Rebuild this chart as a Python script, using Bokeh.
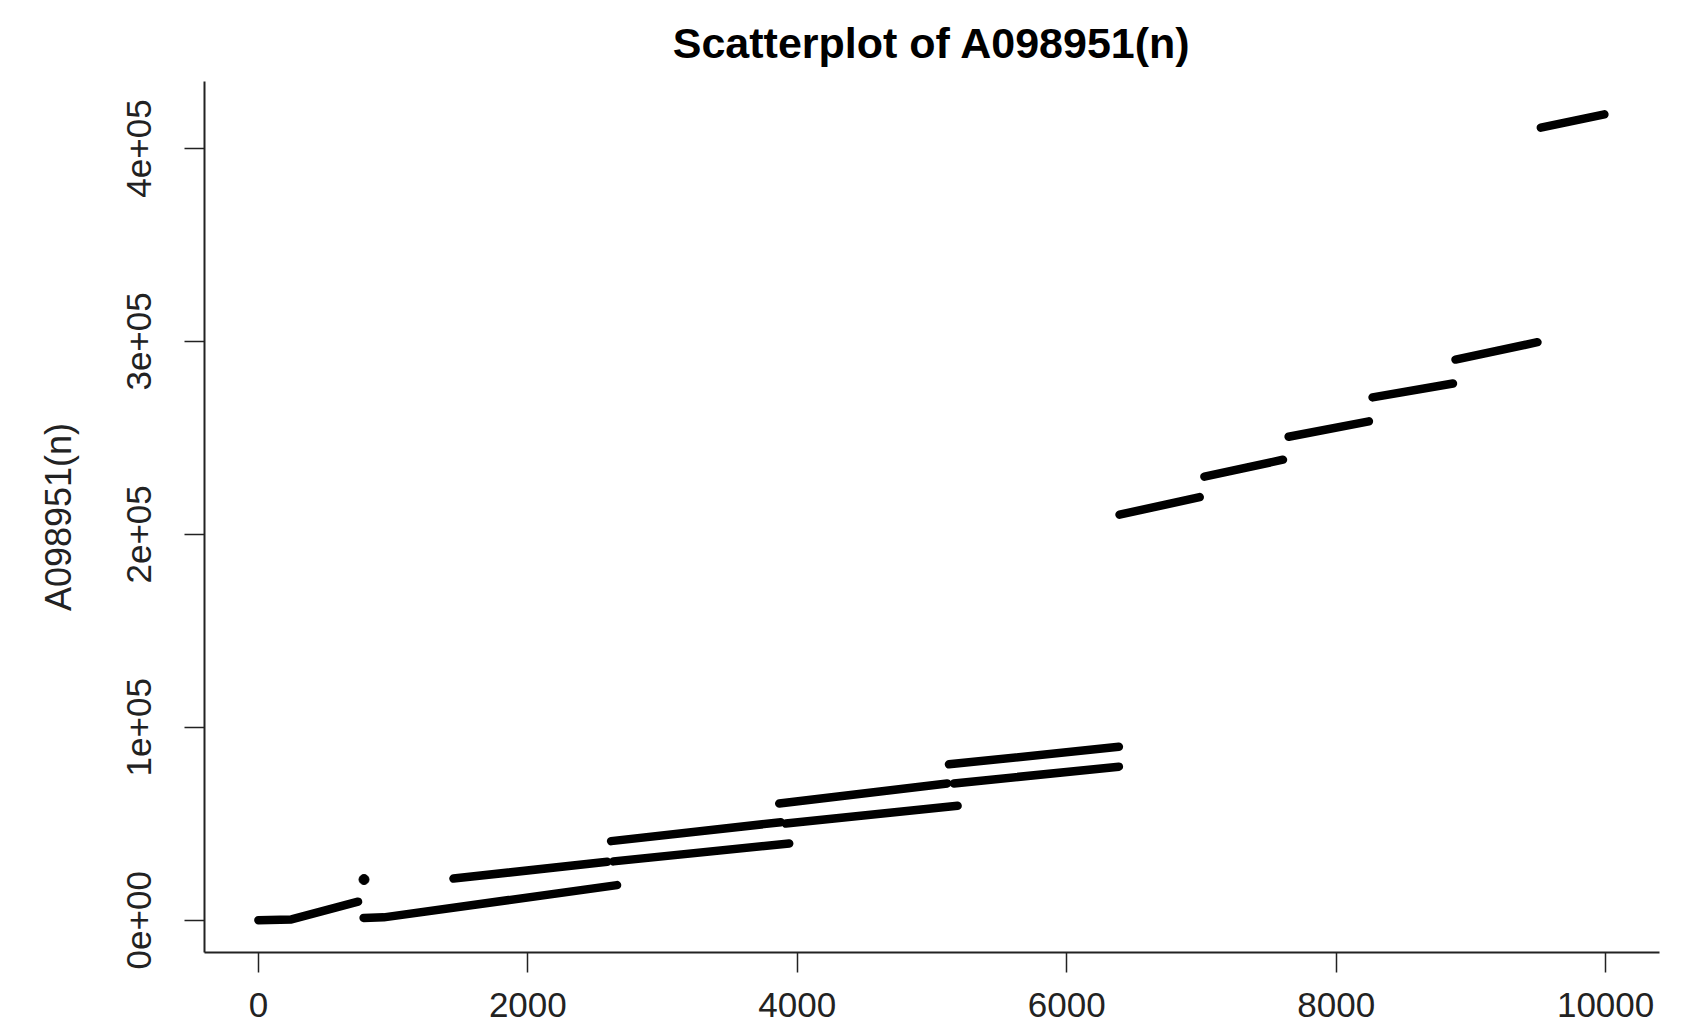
from bokeh.plotting import figure
from bokeh.models import Range1d, FixedTicker, ColumnDataSource
from bokeh.embed import file_html
from bokeh.resources import INLINE

# ---- data (n index, sequence value) ----
# each run of points is given by the n / value at its visible break points
seg_n = [
    [0, 245, 740],
    [781, 930, 2662],
    [1448, 2590],
    [2635, 3940],
    [2618, 3878],
    [3915, 5190],
    [3866, 5113],
    [5163, 6387],
    [5126, 6387],
    [6392, 6987],
    [7022, 7605],
    [7647, 8243],
    [8270, 8867],
    [8886, 9494],
    [9519, 9991],
]
seg_val = [
    [0, 400, 9600],
    [1200, 1500, 18200],
    [21600, 30300],
    [30500, 39800],
    [41000, 50800],
    [50100, 59300],
    [60500, 70900],
    [70900, 79600],
    [80800, 89900],
    [210200, 219300],
    [229900, 238700],
    [250600, 258600],
    [271000, 278200],
    [290600, 299600],
    [410800, 417700],
]
single_n = [784]
single_val = [21100]

x_ticks = [0, 2000, 4000, 6000, 8000, 10000]
x_tick_labels = ["0", "2000", "4000", "6000", "8000", "10000"]
y_ticks = [0, 100000, 200000, 300000, 400000]
y_tick_labels = ["0e+00", "1e+05", "2e+05", "3e+05", "4e+05"]

title_text = "Scatterplot of A098951(n)"
y_label = "A098951(n)"

FONT = "Liberation Sans"

p = figure(
    width=1700, height=1027,
    output_backend="svg", toolbar_location=None,
    x_range=Range1d(-400, 10400), y_range=Range1d(-16720, 434720),
    min_border_left=204, min_border_right=41,
    min_border_top=81, min_border_bottom=75,
    title=title_text,
)
p.background_fill_color = "white"
p.border_fill_color = "white"
p.outline_line_color = None
p.xgrid.visible = False
p.ygrid.visible = False

p.title.align = "center"
p.title.text_font = FONT
p.title.text_font_style = "bold"
p.title.text_font_size = "43px"
p.title.text_color = "black"
p.title.standoff = 30

src = ColumnDataSource(dict(xs=seg_n, ys=seg_val))
p.multi_line("xs", "ys", source=src, line_color="black", line_width=8.5,
             line_cap="round", line_join="round")
p.scatter(single_n, single_val, size=10, color="black")

for ax in (p.xaxis[0], p.yaxis[0]):
    ax.axis_line_color = "#222222"
    ax.axis_line_width = 2
    ax.major_tick_line_color = "#222222"
    ax.major_tick_line_width = 1.5
    ax.major_tick_out = 20
    ax.major_tick_in = 0
    ax.minor_tick_line_color = None
    ax.major_label_text_font = FONT
    ax.major_label_text_font_size = "35px"
    ax.major_label_text_color = "#222222"

p.xaxis.ticker = FixedTicker(ticks=x_ticks)
p.xaxis.major_label_overrides = {t: l for t, l in zip(x_ticks, x_tick_labels)}
p.xaxis.major_label_standoff = 20

p.yaxis.ticker = FixedTicker(ticks=y_ticks)
p.yaxis.major_label_overrides = {t: l for t, l in zip(y_ticks, y_tick_labels)}
p.yaxis.major_label_orientation = "vertical"
p.yaxis.major_label_standoff = 33
p.yaxis.axis_label = y_label
p.yaxis.axis_label_text_font = FONT
p.yaxis.axis_label_text_font_size = "36px"
p.yaxis.axis_label_text_font_style = "normal"
p.yaxis.axis_label_text_color = "#222222"
p.yaxis.axis_label_standoff = 46

open("out.html", "w").write(file_html(p, INLINE))
